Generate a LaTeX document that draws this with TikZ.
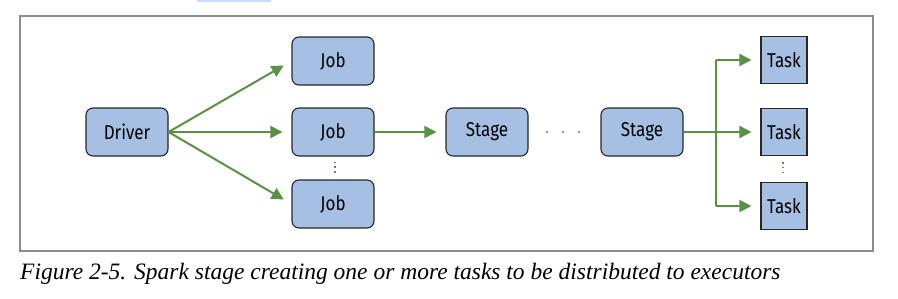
\documentclass[tikz,border=0pt]{standalone}
\usepackage{fontspec}
\setmainfont{Liberation Serif}
\newfontfamily\boxfont[FakeStretch=0.85]{Fira Sans}
\usetikzlibrary{arrows.meta}
\definecolor{boxfill}{HTML}{A6C0E4}
\definecolor{flowgreen}{HTML}{5B9145}
\definecolor{framegray}{HTML}{8C8C8C}
\definecolor{topbar}{HTML}{CADCFB}
\tikzset{
  every picture/.style={x=1pt, y=-1pt},
  flow/.style={flowgreen, line width=2pt, -{Triangle[length=12pt,width=12pt]}, shorten >=9pt},
  fork/.style={flowgreen, line width=2pt},
  rbox/.style={draw=black!85, fill=boxfill, line width=1.1pt, rounded corners=7pt,
    minimum width=82pt, minimum height=48pt, inner sep=2pt,
    font=\boxfont\fontsize{20}{24}\selectfont},
  tbox/.style={rbox, rounded corners=0pt, minimum width=46pt, minimum height=47pt},
  vdots/.style={flowgreen, line width=1.6pt, dash pattern=on 1.6pt off 3.2pt},
}

\begin{document}
\begin{tikzpicture}
  \useasboundingbox (0,0) rectangle (898,298);
  \fill[topbar] (197,0) rectangle (271,2);
  \draw[framegray, line width=1.2pt] (20,16) rectangle (873,251);
  % nodes
  \node[rbox] (driver) at (127,132) {Driver};
  \node[rbox] (job1) at (333,61) {Job};
  \node[rbox] (job2) at (333,132) {Job};
  \node[rbox] (job3) at (333,204) {Job};
  \node[rbox] (stage1) at (487,132) {Stage};
  \node[rbox] (stage2) at (642,132) {Stage};
  \node[tbox] (task1) at (784,60) {Task};
  \node[tbox] (task2) at (784,132) {Task};
  \node[tbox] (task3) at (784,206) {Task};
  % driver to jobs
  \foreach \j in {job1,job2,job3}
    \draw[flow] (driver.east) -- (\j.west);
  \draw[flow] (job2) -- (stage1);
  % stage to tasks
  \coordinate (split) at (716,132);
  \draw[flow] (stage2) -- (task2);
  \draw[fork] (split |- task1) -- (split |- task3);
  \draw[flow] (split |- task1) -- (task1.west);
  \draw[flow] (split |- task3) -- (task3.west);
  % dots
  \foreach \x in {547,563,579}
    \fill[flowgreen] (\x,132) circle (1.2pt);
  \draw[vdots] ([xshift=2pt,yshift=-5pt]job2.south) -- ([xshift=2pt,yshift=5pt]job3.north);
  \draw[vdots] ([xshift=-1pt,yshift=-6pt]task2.south) -- ([xshift=-1pt,yshift=7pt]task3.north);
  % caption
  \node[anchor=base west, inner sep=0pt, font=\itshape\fontsize{23.5}{28}\selectfont] (caption) at (20,279)
    {Figure 2-5. Spark stage creating one or more tasks to be distributed to executors};
\end{tikzpicture}
\end{document}
